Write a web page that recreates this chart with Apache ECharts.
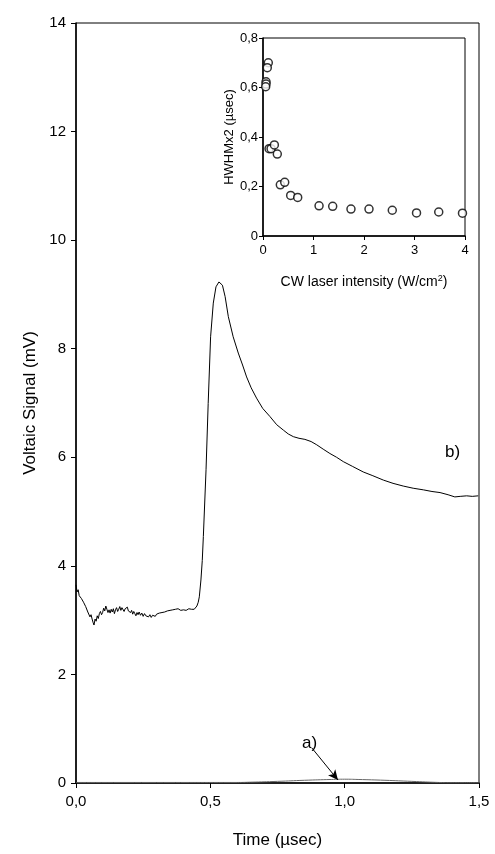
<!DOCTYPE html>
<html>
<head>
<meta charset="utf-8">
<script src="https://cdn.jsdelivr.net/npm/echarts@6/dist/echarts.min.js"></script>
<style>
  html, body { margin: 0; padding: 0; background: #fff; }
  #chart { width: 495px; height: 854px; }
</style>
</head>
<body>
<div id="chart"></div>
<script>
// curve b) : time (usec) and voltaic signal (mV)
var timeB = [
  0, 0.004, 0.008, 0.012, 0.016, 0.020, 0.024, 0.028, 0.032, 0.036,
  0.040, 0.044, 0.048, 0.052, 0.056, 0.060, 0.064, 0.067, 0.071, 0.075,
  0.079, 0.083, 0.087, 0.091, 0.095, 0.099, 0.103, 0.107, 0.111, 0.115,
  0.119, 0.123, 0.127, 0.131, 0.135, 0.139, 0.143, 0.147, 0.151, 0.155,
  0.159, 0.163, 0.167, 0.171, 0.175, 0.179, 0.183, 0.187, 0.191, 0.195,
  0.199, 0.203, 0.207, 0.211, 0.215, 0.219, 0.223, 0.227, 0.231, 0.235,
  0.240, 0.245, 0.250, 0.255, 0.260, 0.265, 0.270, 0.275, 0.280, 0.285,
  0.290, 0.295, 0.300, 0.305, 0.310, 0.315, 0.320, 0.325, 0.330, 0.335,
  0.340, 0.345, 0.350, 0.355, 0.360, 0.365, 0.370, 0.375, 0.380, 0.385,
  0.390, 0.395, 0.400, 0.405, 0.410, 0.415, 0.420, 0.425, 0.430, 0.435,
  0.440, 0.445, 0.450, 0.455, 0.459, 0.465, 0.470, 0.474, 0.484, 0.492,
  0.501, 0.511, 0.521, 0.532, 0.545, 0.555, 0.567, 0.585, 0.604, 0.620,
  0.635, 0.652, 0.672, 0.695, 0.722, 0.747, 0.772, 0.790, 0.809, 0.830,
  0.852, 0.875, 0.896, 0.920, 0.945, 0.970, 0.995, 1.030, 1.069, 1.105,
  1.144, 1.180, 1.218, 1.255, 1.293, 1.325, 1.355, 1.385, 1.410, 1.430,
  1.454, 1.475, 1.497
];
var signalB = [
  3.65, 3.52, 3.56, 3.45, 3.48, 3.40, 3.42, 3.33, 3.36, 3.25,
  3.28, 3.15, 3.18, 3.06, 3.10, 3.02, 2.95, 2.91, 3.02, 2.98,
  3.08, 3.03, 3.12, 3.16, 3.10, 3.14, 3.22, 3.17, 3.26, 3.20,
  3.14, 3.19, 3.13, 3.20, 3.15, 3.21, 3.12, 3.19, 3.23, 3.16,
  3.20, 3.25, 3.18, 3.23, 3.22, 3.16, 3.21, 3.18, 3.24, 3.17,
  3.20, 3.14, 3.18, 3.11, 3.16, 3.12, 3.08, 3.14, 3.10, 3.15,
  3.09, 3.13, 3.07, 3.12, 3.08, 3.11, 3.06, 3.10, 3.05, 3.09,
  3.12, 3.07, 3.11, 3.08, 3.13, 3.10, 3.14, 3.12, 3.15, 3.13,
  3.17, 3.14, 3.18, 3.16, 3.19, 3.17, 3.20, 3.18, 3.21, 3.19,
  3.18, 3.20, 3.19, 3.21, 3.18, 3.20, 3.21, 3.22, 3.20, 3.21,
  3.20, 3.22, 3.26, 3.33, 3.43, 3.74, 4.10, 4.54, 5.77, 6.99,
  8.22, 8.84, 9.14, 9.23, 9.17, 8.96, 8.59, 8.22, 7.92, 7.70,
  7.48, 7.28, 7.09, 6.90, 6.75, 6.60, 6.50, 6.43, 6.38, 6.35,
  6.33, 6.29, 6.23, 6.15, 6.07, 6.00, 5.92, 5.83, 5.73, 5.66,
  5.58, 5.52, 5.47, 5.43, 5.40, 5.37, 5.35, 5.31, 5.27, 5.28,
  5.29, 5.28, 5.29
];

// curve a)
var timeA = [0, 0.3, 0.6, 0.65, 0.75, 0.85, 0.95, 1.0, 1.05, 1.15, 1.25, 1.35, 1.4, 1.5];
var signalA = [0.01, 0.01, 0.01, 0.015, 0.03, 0.05, 0.065, 0.07, 0.065, 0.05, 0.03, 0.01, 0.005, 0.005];

// inset: HWHMx2 vs CW laser intensity
var intensity = [0.105, 0.085, 0.06, 0.06, 0.053, 0.12, 0.16, 0.225, 0.283, 0.343, 0.43,
  0.548, 0.687, 1.11, 1.38, 1.742, 2.099, 2.56, 3.04, 3.48, 3.95];
var hwhm = [0.70, 0.68, 0.623, 0.614, 0.603, 0.353, 0.353, 0.368, 0.331, 0.207, 0.217,
  0.164, 0.156, 0.122, 0.12, 0.109, 0.109, 0.104, 0.093, 0.097, 0.092];

// arrow pointing at curve a)
var arrowFrom = [0.878, 0.645];
var arrowTo = [0.975, 0.055];

function zip(xs, ys) {
  return xs.map(function (x, i) { return [x, ys[i]]; });
}
function comma(v, d) {
  return v === 0 ? '0' : v.toFixed(d).replace('.', ',');
}

var font = "'Liberation Sans', Arial, sans-serif";
var chart = echarts.init(document.getElementById('chart'), null, { renderer: 'canvas' });

var option = {
  backgroundColor: '#fff',
  animation: false,
  textStyle: { fontFamily: font, color: '#000' },
  grid: [
    { left: 76, right: 16, top: 23, bottom: 71, show: true, borderColor: '#000', borderWidth: 1,
      containLabel: false, outerBoundsMode: 'none' },
    { left: 263, right: 30, top: 38, bottom: 618, show: true, borderColor: '#000', borderWidth: 1,
      containLabel: false, outerBoundsMode: 'none' }
  ],
  xAxis: [
    {
      gridIndex: 0, type: 'value', min: 0, max: 1.5, interval: 0.5,
      name: 'Time (\u00b5sec)', nameLocation: 'middle', nameGap: 49,
      nameTextStyle: { fontSize: 17, color: '#000', fontFamily: font },
      axisLine: { lineStyle: { color: '#000', width: 1.5 } },
      axisTick: { inside: false, length: 5, lineStyle: { color: '#000' } },
      axisLabel: { fontSize: 15, color: '#000', margin: 11, formatter: function (v) { return v.toFixed(1).replace('.', ','); } },
      splitLine: { show: false }
    },
    {
      gridIndex: 1, type: 'value', min: 0, max: 4, interval: 1,
      name: 'CW laser intensity (W/cm{sup|2})', nameLocation: 'middle', nameGap: 38,
      nameTextStyle: { fontSize: 14, color: '#000', fontFamily: font,
        rich: { sup: { fontSize: 9, verticalAlign: 'top', padding: [0, 0, 8, 0], fontFamily: font, color: '#000' } } },
      axisLine: { lineStyle: { color: '#000', width: 1.5 } },
      axisTick: { inside: false, length: 4, lineStyle: { color: '#000' } },
      axisLabel: { fontSize: 13, color: '#000', margin: 8 },
      splitLine: { show: false }
    }
  ],
  yAxis: [
    {
      gridIndex: 0, type: 'value', min: 0, max: 14, interval: 2,
      name: 'Voltaic Signal (mV)', nameLocation: 'middle', nameGap: 35,
      nameTextStyle: { fontSize: 17, color: '#000', fontFamily: font },
      axisLine: { lineStyle: { color: '#000', width: 1.5 } },
      axisTick: { inside: false, length: 5, lineStyle: { color: '#000' } },
      axisLabel: { fontSize: 15, color: '#000', margin: 10 },
      splitLine: { show: false }
    },
    {
      gridIndex: 1, type: 'value', min: 0, max: 0.8, interval: 0.2,
      name: 'HWHMx2 (\u00b5sec)', nameLocation: 'middle', nameGap: 23,
      nameTextStyle: { fontSize: 13, color: '#000', fontFamily: font },
      axisLine: { lineStyle: { color: '#000', width: 1.5 } },
      axisTick: { inside: false, length: 4, lineStyle: { color: '#000' } },
      axisLabel: { fontSize: 13, color: '#000', margin: 5, formatter: function (v) { return comma(v, 1); } },
      splitLine: { show: false }
    }
  ],
  graphic: [
    { type: 'text', left: 302, top: 735, style: { text: 'a)', font: '17px ' + font, fill: '#000' } },
    { type: 'text', left: 445, top: 444, style: { text: 'b)', font: '17px ' + font, fill: '#000' } }
  ],
  series: [
    {
      name: 'a', type: 'line', xAxisIndex: 0, yAxisIndex: 0,
      data: zip(timeA, signalA), showSymbol: false, smooth: true,
      lineStyle: { color: '#666', width: 1 },
      markLine: {
        silent: true, symbol: ['none', 'arrow'], symbolSize: [7, 10],
        label: { show: false },
        lineStyle: { color: '#000', width: 1, type: 'solid' },
        data: [[{ coord: arrowFrom }, { coord: arrowTo }]]
      }
    },
    {
      name: 'b', type: 'line', xAxisIndex: 0, yAxisIndex: 0,
      data: zip(timeB, signalB), showSymbol: false,
      lineStyle: { color: '#000', width: 1 }
    },
    {
      name: 'inset', type: 'scatter', xAxisIndex: 1, yAxisIndex: 1,
      data: zip(intensity, hwhm), symbol: 'circle', symbolSize: 8,
      itemStyle: { color: '#fff', borderColor: '#000', borderWidth: 1.5 }
    }
  ]
};
chart.setOption(option);
</script>
</body>
</html>
